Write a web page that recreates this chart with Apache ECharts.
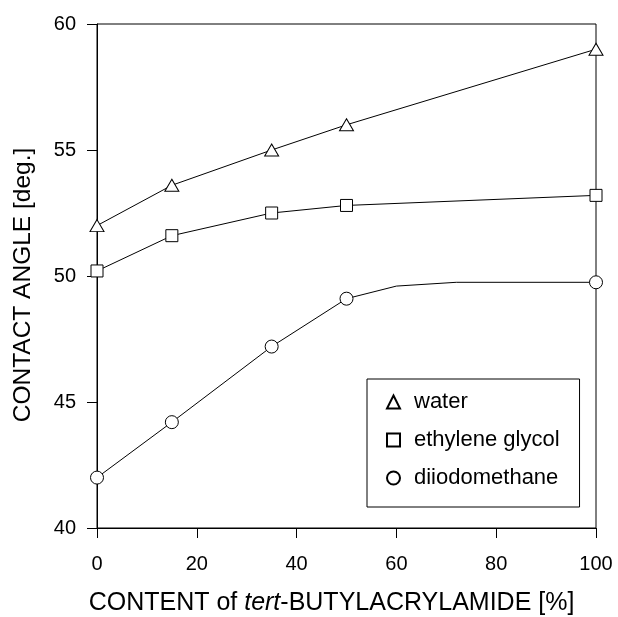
<!DOCTYPE html>
<html>
<head>
<meta charset="utf-8">
<script src="https://cdn.jsdelivr.net/npm/echarts@6/dist/echarts.min.js"></script>
<style>
html,body{margin:0;padding:0;background:#fff;}
#chart{width:618px;height:617px;}
</style>
</head>
<body>
<div id="chart"></div>
<script>
// ---- data ----
var contentX = [0, 15, 35, 50, 100];
var waterY = [52.0, 53.6, 55.0, 56.0, 59.0];
var glycolY = [50.2, 51.6, 52.5, 52.8, 53.2];
var diiodoY = [42.0, 44.2, 47.2, 49.1, 49.75];
// extra bend points of the drawn diiodomethane line (no marker)
var diiodoBendX = [60, 72];
var diiodoBendY = [49.6, 49.75];
var seriesNames = ['water', 'ethylene glycol', 'diiodomethane'];
var xTicks = [0, 20, 40, 60, 80, 100];
var yTicks = [40, 45, 50, 55, 60];

var FONT = '"Liberation Sans", Arial, sans-serif';

function pts(xs, ys) {
  return xs.map(function (x, i) { return [x, ys[i]]; });
}
function withBends(xs, ys, bx, by) {
  var d = xs.map(function (x, i) { return { value: [x, ys[i]] }; });
  bx.forEach(function (x, i) { d.push({ value: [x, by[i]], symbol: 'none' }); });
  d.sort(function (a, b) { return a.value[0] - b.value[0]; });
  return d;
}

var markerStyle = { color: '#fff', borderColor: '#000', borderWidth: 1 };
var lineStyle = { color: '#000', width: 1 };

var chart = echarts.init(document.getElementById('chart'), null, { renderer: 'canvas' });
chart.setOption({
  animation: false,
  backgroundColor: '#fff',
  textStyle: { fontFamily: FONT, color: '#000' },
  grid: {
    left: 97, right: 22, top: 24, bottom: 89,
    containLabel: false, outerBoundsMode: 'none',
    show: true, borderColor: '#000', borderWidth: 1, backgroundColor: 'transparent'
  },
  xAxis: {
    type: 'value', min: xTicks[0], max: xTicks[xTicks.length - 1], interval: 20,
    name: '{n|CONTENT of }{i|tert}{n|-BUTYLACRYLAMIDE [%]}',
    nameLocation: 'middle', nameGap: 63,
    nameTextStyle: {
      fontFamily: FONT, fontSize: 25, color: '#000', padding: [0, 30, 0, 0],
      rich: {
        n: { fontFamily: FONT, fontSize: 25, color: '#000' },
        i: { fontFamily: FONT, fontSize: 25, color: '#000', fontStyle: 'italic' }
      }
    },
    axisLine: { show: true, lineStyle: { color: '#000', width: 1 } },
    axisTick: { show: true, inside: false, length: 10, lineStyle: { color: '#000', width: 1 } },
    axisLabel: { fontFamily: FONT, fontSize: 20, color: '#000', margin: 26 },
    splitLine: { show: false }
  },
  yAxis: {
    type: 'value', min: yTicks[0], max: yTicks[yTicks.length - 1], interval: 5,
    name: 'CONTACT ANGLE [deg.]',
    nameLocation: 'middle', nameGap: 61,
    nameTextStyle: { fontFamily: FONT, fontSize: 24.5, color: '#000', padding: [0, 18, 0, 0] },
    axisLine: { show: true, lineStyle: { color: '#000', width: 1 } },
    axisTick: { show: true, inside: false, length: 10, lineStyle: { color: '#000', width: 1 } },
    axisLabel: { fontFamily: FONT, fontSize: 20, color: '#000', margin: 21 },
    splitLine: { show: false }
  },
  legend: {
    orient: 'vertical',
    left: 367, top: 379,
    padding: [12, 20, 18, 19],
    itemWidth: 13, itemHeight: 13, itemGap: 16,
    borderColor: '#000', borderWidth: 1, backgroundColor: '#fff',
    symbolKeepAspect: true,
    textStyle: { fontFamily: FONT, fontSize: 22, color: '#000', padding: [0, 0, 0, 9] },
    data: [
      { name: seriesNames[0], icon: 'triangle' },
      { name: seriesNames[1], icon: 'rect' },
      { name: seriesNames[2], icon: 'circle' }
    ],
    selectedMode: false
  },
  series: [
    {
      name: seriesNames[0], type: 'line', data: pts(contentX, waterY),
      symbol: 'triangle', symbolSize: [14, 12], showAllSymbol: true,
      itemStyle: markerStyle, lineStyle: lineStyle, z: 3
    },
    {
      name: seriesNames[1], type: 'line', data: pts(contentX, glycolY),
      symbol: 'rect', symbolSize: 12, showAllSymbol: true,
      itemStyle: markerStyle, lineStyle: lineStyle, z: 3
    },
    {
      name: seriesNames[2], type: 'line',
      data: withBends(contentX, diiodoY, diiodoBendX, diiodoBendY),
      symbol: 'circle', symbolSize: 13, showAllSymbol: true,
      itemStyle: markerStyle, lineStyle: lineStyle, z: 3
    }
  ]
});
</script>
</body>
</html>
